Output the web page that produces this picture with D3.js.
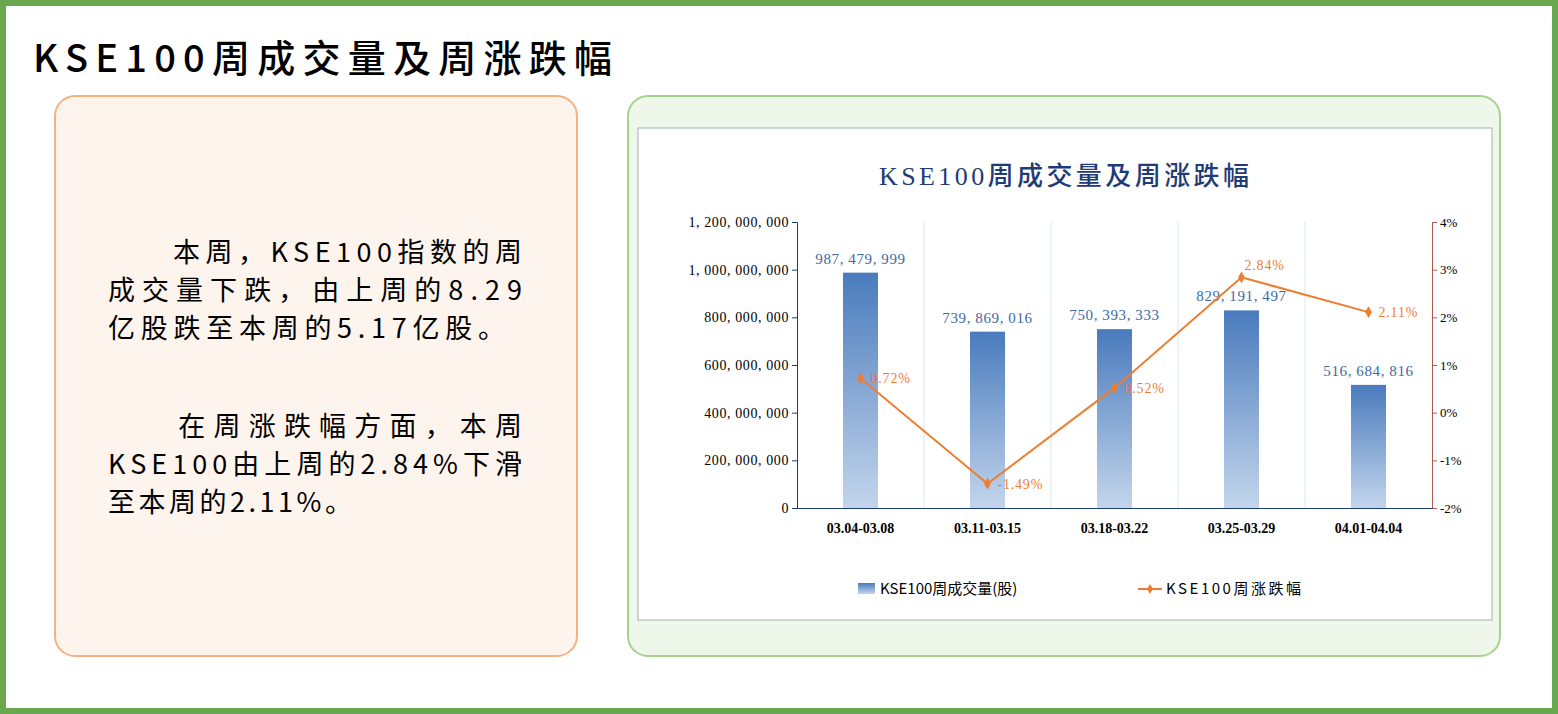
<!DOCTYPE html>
<html><head><meta charset="utf-8">
<script src="https://cdn.jsdelivr.net/npm/d3@7"></script>
<style>body{margin:0;background:#fff}svg{display:block}</style>
</head><body>
<svg id="c" width="1558" height="714"></svg>
<script>
// chart data
var weeks = ['03.04-03.08','03.11-03.15','03.18-03.22','03.25-03.29','04.01-04.04'];
var volume = [987479999, 739869016, 750393333, 829191497, 516684816];
var change = [0.72, -1.49, 0.52, 2.84, 2.11];
var leftTicks = [0,200000000,400000000,600000000,800000000,1000000000,1200000000];
var rightTicks = [-2,-1,0,1,2,3,4];
var para1 = ['\u3000\u3000本周，KSE100指数的周','成交量下跌，由上周的8.29','亿股跌至本周的5.17亿股。'];
var para2 = ['\u3000\u3000在周涨跌幅方面，本周','KSE100由上周的2.84%下滑','至本周的2.11%。'];
var para1W = [414, 414, 397];
var para2W = [414, 414, 244];

var svg = d3.select('#c');
var cjk = '"Noto Sans CJK SC","Noto Sans",sans-serif';
var serif = '"Liberation Serif","Noto Sans CJK SC",serif';

// frame
svg.append('rect').attr('x',3).attr('y',3).attr('width',1552).attr('height',708)
	.attr('fill','#fff').attr('stroke','#6aa84f').attr('stroke-width',6);
svg.append('text').attr('x',33).attr('y',72).text('KSE100周成交量及周涨跌幅')
	.attr('textLength',579).attr('lengthAdjust','spacing')
	.attr('font-family',cjk).attr('font-size',38).attr('font-weight',500).attr('fill','#000');

// left text box
svg.append('rect').attr('x',55).attr('y',96).attr('width',522).attr('height',560).attr('rx',20)
	.attr('fill','#fdf4ee').attr('stroke','#f4b183').attr('stroke-width',2);
var tb = svg.append('g').attr('font-family',cjk).attr('font-size',27).attr('fill','#000');
para1.forEach(function(t,i){ tb.append('text').attr('x',108).attr('y',262+i*38).text(t)
	.attr('textLength',para1W[i]).attr('lengthAdjust','spacing'); });
para2.forEach(function(t,i){ tb.append('text').attr('x',108).attr('y',436+i*38).text(t)
	.attr('textLength',para2W[i]).attr('lengthAdjust','spacing'); });

// right box
svg.append('rect').attr('x',628).attr('y',96).attr('width',872).attr('height',560).attr('rx',20)
	.attr('fill','#eff7ea').attr('stroke','#a9d18e').attr('stroke-width',2);
svg.append('rect').attr('x',638).attr('y',128).attr('width',854).attr('height',492)
	.attr('fill','#fff').attr('stroke','#9fb0b8').attr('stroke-width',1);
svg.append('text').attr('x',879).attr('y',185)
	.text('KSE100周成交量及周涨跌幅').attr('font-family',serif).attr('font-size',26)
	.attr('textLength',370).attr('lengthAdjust','spacing')
	.attr('fill','#1f3b78').attr('font-weight',500);

var defs = svg.append('defs');
var gr = defs.append('linearGradient').attr('id','bg').attr('x1',0).attr('y1',0).attr('x2',0).attr('y2',1);
gr.append('stop').attr('offset','0%').attr('stop-color','#4a7bbd');
gr.append('stop').attr('offset','100%').attr('stop-color','#c3d5ec');

var x = d3.scaleBand().domain(weeks).range([797,1432]);
var yL = d3.scaleLinear().domain([0,1200000000]).range([508,222]);
var yR = d3.scaleLinear().domain([-2,4]).range([508,222]);
var fmt = d3.format(',');
var g = svg.append('g');

// vertical separators
g.selectAll('line.sep').data(weeks.slice(1)).enter().append('line')
	.attr('x1',function(d){return x(d);}).attr('x2',function(d){return x(d);})
	.attr('y1',222).attr('y2',508).attr('stroke','#dce6f0');

// axes
var la = g.append('g').attr('transform','translate(797,0)')
	.call(d3.axisLeft(yL).tickValues(leftTicks).tickFormat(function(d){return fmt(d).replace(/,/g,', ');}).tickSize(5));
la.select('.domain').attr('stroke','#1f3b78');
la.selectAll('.tick line').attr('stroke','#1f3b78');
la.selectAll('text').attr('font-family',serif).attr('font-size',14).attr('fill','#000')
	.attr('letter-spacing','0.6px');

var ra = g.append('g').attr('transform','translate(1432,0)')
	.call(d3.axisRight(yR).tickValues(rightTicks).tickFormat(function(d){return d+'%';}).tickSize(5));
ra.select('.domain').attr('stroke','#b05a4a');
ra.selectAll('.tick line').attr('stroke','#b05a4a');
ra.selectAll('text').attr('font-family',serif).attr('font-size',13).attr('fill','#000');

var ba = g.append('g').attr('transform','translate(0,508)').call(d3.axisBottom(x).tickSize(0));
ba.select('.domain').attr('stroke','#1f3b78');
ba.selectAll('text').attr('dy','1.6em').attr('font-family',serif).attr('font-size',14)
	.attr('font-weight','bold').attr('fill','#000');

// bars
g.selectAll('rect.bar').data(volume).enter().append('rect')
	.attr('x',function(d,i){return x(weeks[i])+x.bandwidth()/2-17.5;}).attr('width',35)
	.attr('y',function(d){return yL(d);}).attr('height',function(d){return 508-yL(d);})
	.attr('fill','url(#bg)');
g.selectAll('text.bl').data(volume).enter().append('text')
	.attr('x',function(d,i){return x(weeks[i])+x.bandwidth()/2;})
	.attr('y',function(d){return yL(d)-9;}).attr('text-anchor','middle')
	.text(function(d){return fmt(d).replace(/,/g,', ');})
	.attr('font-family',serif).attr('font-size',15).attr('letter-spacing','0.6px').attr('fill','#3e6aa6');

// line
var cx = function(d,i){return x(weeks[i])+x.bandwidth()/2;};
g.append('path').datum(change)
	.attr('d',d3.line().x(cx).y(function(d){return yR(d);}))
	.attr('fill','none').attr('stroke','#ed7d31').attr('stroke-width',2);
g.selectAll('path.mk').data(change).enter().append('path')
	.attr('d',d3.symbol(d3.symbolDiamond,40))
	.attr('transform',function(d,i){return 'translate('+cx(d,i)+','+yR(d)+')';})
	.attr('fill','#ed7d31');
g.selectAll('text.ll').data(change).enter().append('text')
	.attr('x',function(d,i){return cx(d,i)+ (i==3 ? 3 : 10);})
	.attr('y',function(d,i){return yR(d)+(i==3 ? -7 : 5);})
	.text(function(d){return d.toFixed(2)+'%';})
	.attr('font-family',serif).attr('font-size',14).attr('letter-spacing','0.8px').attr('fill','#ed7d31');

// legend
svg.append('rect').attr('x',858).attr('y',583).attr('width',17).attr('height',11).attr('fill','url(#bg)');
svg.append('text').attr('x',880).attr('y',594).text('KSE100周成交量(股)')
	.attr('font-family',cjk).attr('font-size',15).attr('fill','#000');
svg.append('line').attr('x1',1138).attr('x2',1162).attr('y1',589).attr('y2',589)
	.attr('stroke','#ed7d31').attr('stroke-width',2);
svg.append('path').attr('d',d3.symbol(d3.symbolDiamond,30)).attr('transform','translate(1150,589)').attr('fill','#ed7d31');
svg.append('text').attr('x',1166).attr('y',594).text('KSE100周涨跌幅')
	.attr('textLength',135).attr('lengthAdjust','spacing')
	.attr('font-family',cjk).attr('font-size',15).attr('fill','#000');
</script>
</body></html>
